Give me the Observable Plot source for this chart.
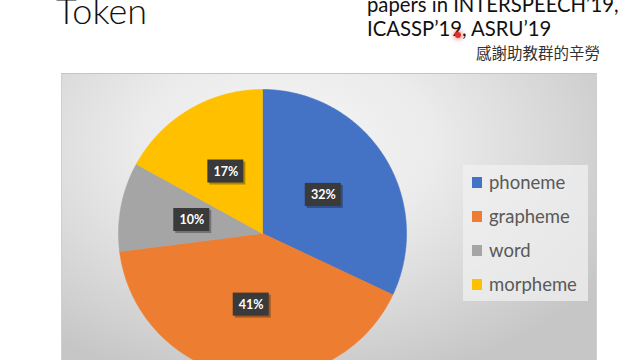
<!DOCTYPE html>
<html>
<head>
<meta charset="utf-8">
<script src="https://cdn.jsdelivr.net/npm/d3@7"></script>
<script src="https://cdn.jsdelivr.net/npm/@observablehq/plot@0.6"></script>
<style>
  html, body { margin: 0; padding: 0; }
  body { width: 640px; height: 360px; overflow: hidden; background: #fff; position: relative; font-family: Lato, "Open Sans", sans-serif; }
  #bg { position: absolute; left: 61px; top: 73px; width: 536px; height: 290px; box-sizing: border-box;
        border-top: 1px solid #c4c4c4; border-left: 1px solid #cfcfcf; border-right: 1px solid #cfcfcf;
        background: radial-gradient(ellipse 70% 85% at 42% 25%, #f6f6f6 0%, #ebebeb 40%, #d6d6d6 75%, #c6c6c6 100%); }
  #chart { position: absolute; left: 0; top: 0; }
  #title { position: absolute; left: 56px; top: -12.5px; font-size: 36px; font-weight: 300; color: #111; font-family: Lato, sans-serif; }
  #note1 { position: absolute; left: 367px; top: -7px; font-size: 20.3px; color: #111; line-height: 23.5px; font-family: Lato, sans-serif; white-space: nowrap; }
  #note2 { position: absolute; left: 476px; top: 41px; font-size: 15.5px; color: #333; font-family: "Noto Sans CJK TC", sans-serif; }
  #dot { position: absolute; left: 455px; top: 32px; width: 6px; height: 6px; border-radius: 50%; background: #e0302a; box-shadow: 0 0 4px 2px rgba(240,60,60,0.45); }
  #legend { position: absolute; left: 463px; top: 165px; width: 125px; height: 136px; background: rgba(240,240,240,0.75); box-sizing: border-box; padding-top: 0px; }
  .item { height: 34px; display: flex; align-items: center; padding-left: 9px; font-size: 18.5px; color: #595959; font-family: Lato, sans-serif; }
  .sw { width: 10px; height: 11px; margin-right: 7px; }
</style>
</head>
<body>
<div id="bg"></div>
<div id="chart"></div>
<div id="title">Token</div>
<div id="note1">papers in INTERSPEECH’19,<br>ICASSP’19, ASRU’19</div>
<div id="dot"></div>
<div id="note2">感謝助教群的辛勞</div>
<div id="legend"></div>
<script>
const categories = ["phoneme", "grapheme", "word", "morpheme"];
const shares = [32, 41, 10, 17];
const labels = ["32%", "41%", "10%", "17%"];
const colors = ["#4472C4", "#ED7D31", "#A5A5A5", "#FFC000"];

const rows = categories.map((c, i) => ({cat: c, value: shares[i], label: labels[i]}));
const arcs = d3.pie().sort(null).value(d => d.value)(rows);

// slice outlines (unit circle), derived from pie angles
const slicePts = [];
for (const a of arcs) {
  const cat = a.data.cat;
  slicePts.push({cat, x: 0, y: 0});
  const n = Math.max(2, Math.ceil((a.endAngle - a.startAngle) / 0.01));
  for (let k = 0; k <= n; k++) {
    const t = a.startAngle + (a.endAngle - a.startAngle) * k / n;
    slicePts.push({cat, x: Math.sin(t), y: Math.cos(t)});
  }
  slicePts.push({cat, x: 0, y: 0});
}
const labelPts = arcs.map(a => {
  const m = (a.startAngle + a.endAngle) / 2;
  return {cat: a.data.cat, label: a.data.label, x: 0.5 * Math.sin(m), y: 0.5 * Math.cos(m)};
});

const chart = Plot.plot({
  width: 640,
  height: 360,
  margin: 0,
  style: {background: "transparent", overflow: "visible"},
  x: {domain: [-1, 1], range: [118, 406], axis: null},
  y: {domain: [-1, 1], range: [377, 89], axis: null},
  color: {domain: categories, range: colors},
  marks: [
    Plot.line(slicePts, {x: "x", y: "y", z: "cat", fill: "cat", stroke: "cat", strokeWidth: 0.6}),
    Plot.rect(labelPts, {x1: "x", x2: "x", y1: "y", y2: "y", insetLeft: -18, insetRight: -18, insetTop: -11.5, insetBottom: -11.5, dx: 2, dy: 2, fill: "#000", fillOpacity: 0.3}),
    Plot.rect(labelPts, {x1: "x", x2: "x", y1: "y", y2: "y", insetLeft: -18, insetRight: -18, insetTop: -11.5, insetBottom: -11.5, fill: "#3a3a3a"}),
    Plot.text(labelPts, {x: "x", y: "y", text: "label", fill: "white", fontWeight: "bold", fontSize: 12.5, fontFamily: "Lato, sans-serif"})
  ]
});
document.getElementById("chart").appendChild(chart);

const legend = document.getElementById("legend");
categories.forEach((c, i) => {
  const item = document.createElement("div");
  item.className = "item";
  const sw = document.createElement("span");
  sw.className = "sw";
  sw.style.background = colors[i];
  item.appendChild(sw);
  item.appendChild(document.createTextNode(c));
  legend.appendChild(item);
});
</script>
</body>
</html>
